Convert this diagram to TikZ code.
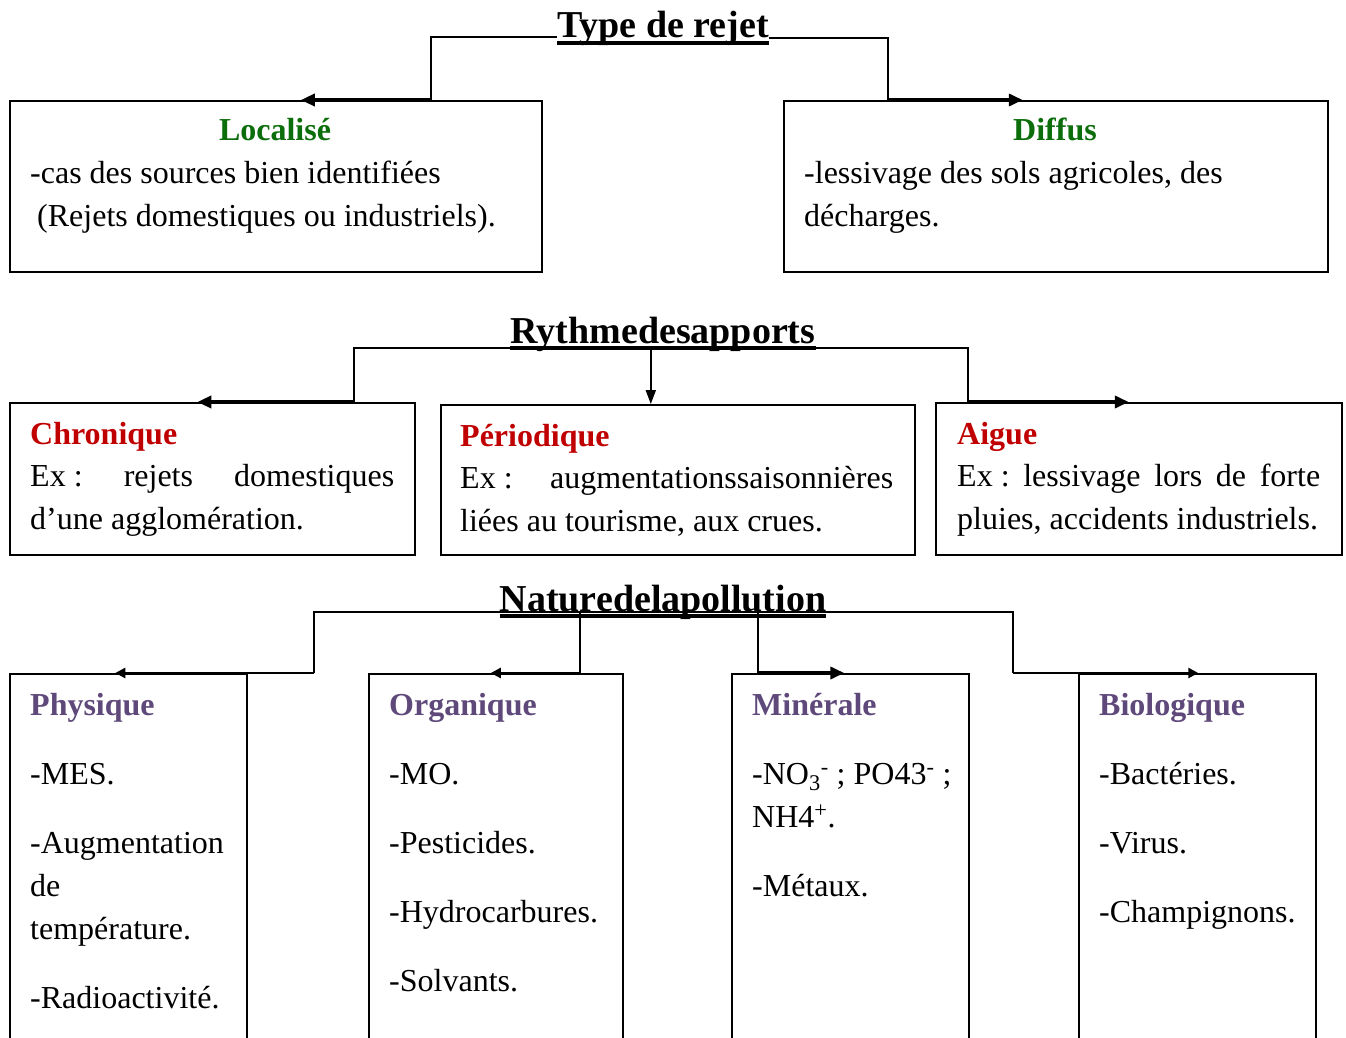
\documentclass[tikz,border=0pt]{standalone}
\usepackage{fontspec}
\setmainfont{Liberation Serif}
\usetikzlibrary{arrows.meta}
\definecolor{locgreen}{RGB}{11,110,11}
\definecolor{rythred}{RGB}{192,0,0}
\definecolor{natpurple}{RGB}{95,73,122}
\tikzset{
  box/.style = {draw, line width=1.6pt, anchor=north west, inner sep=0pt},
  % multi-line text: the base anchor sits on the last line
  txt/.style = {anchor=base west, align=left, inner sep=0pt,
                font=\fontsize{32}{43}\selectfont\frenchspacing},
  head/.style = {anchor=base west, inner sep=0pt,
                 font=\fontsize{32}{43}\selectfont\bfseries},
  title/.style = {anchor=base, inner sep=0pt,
                  font=\fontsize{38}{40}\selectfont\bfseries},
  link/.style = {line width=2pt},
  arr/.style = {line width=3.5pt, -{Triangle[length=14pt,width=12pt]}},
  smallarr/.style = {line width=2.5pt, -{Triangle[length=10pt,width=10pt]}}
}
\begin{document}
\begin{tikzpicture}[x=1pt, y=-1pt]
  \useasboundingbox (0,0) rectangle (1346,1038);
  \clip (0,0) rectangle (1346,1038);

  % Type de rejet
  \node [title] (t1) at (663,38) {Type de rejet};
  \draw [line width=4pt] ([yshift=-5pt]t1.base west) -- ([yshift=-5pt]t1.base east);
  \node [box, minimum width=532, minimum height=171] (loc) at (9,100) {};
  \node [box, minimum width=544, minimum height=171] (dif) at (783,100) {};
  \draw [link] ([yshift=1pt]t1.base west) -| ([xshift=155pt]loc.north);
  \draw [arr] ([xshift=155pt]loc.north) -- ([xshift=25pt]loc.north);
  \draw [link] (t1.base east) -| ([xshift=-168pt]dif.north);
  \draw [arr] ([xshift=-168pt]dif.north) -- ([xshift=-33pt]dif.north);
  \node [head, anchor=base, text=locgreen] (loch) at (275,141) {Localisé};
  \node [txt] (loct) at (30,226)
    {-cas des sources bien identifiées\\\hspace*{7pt}(Rejets domestiques ou industriels).};
  \node [head, anchor=base, text=locgreen] (difh) at (1055,141) {Diffus};
  \node [txt] (dift) at (804,226)
    {-lessivage des sols agricoles, des\\décharges.};

  % Rythme des apports
  \node [title] (t2) at (663,343) {Rythmedesapports};
  \draw [line width=4pt] ([yshift=-5pt]t2.base west) -- ([yshift=-5pt]t2.base east);
  \coordinate (t2u) at ([yshift=-5pt]t2.base);
  \node [box, minimum width=405, minimum height=152] (chr) at (9,402) {};
  \node [box, minimum width=474, minimum height=150] (per) at (440,404) {};
  \node [box, minimum width=406, minimum height=152] (aig) at (935,402) {};
  \draw [link] ([xshift=142pt]chr.north) |- (t2u) -| ([xshift=-171pt]aig.north);
  \draw [arr] ([xshift=142pt]chr.north) -- ([xshift=-15pt]chr.north);
  \draw [arr] ([xshift=-171pt]aig.north) -- ([xshift=-10pt]aig.north);
  \draw [link, -{Triangle[length=14pt,width=10pt]}] ([xshift=-27pt]per.north |- t2u) -- ([xshift=-27pt]per.north);
  \node [head, text=rythred] (chrh) at (30,444) {Chronique};
  \node [txt] (chrt) at (30,529)
    {\makebox[364pt][s]{Ex\kern8pt: rejets domestiques}\\d’une agglomération.};
  \node [head, text=rythred] (perh) at (460,446) {Périodique};
  \node [txt] (pert) at (460,531)
    {\makebox[433pt][s]{Ex\kern8pt: augmentationssaisonnières}\\liées au tourisme, aux crues.};
  \node [head, text=rythred] (aigh) at (957,444) {Aigue};
  \node [txt] (aigt) at (957,529)
    {\makebox[363pt][s]{Ex\kern8pt: lessivage lors de forte}\\pluies, accidents industriels.};

  % Nature de la pollution
  \node [title] (t3) at (663,611) {Naturedelapollution};
  \draw [line width=4pt] ([yshift=-5pt]t3.base west) -- ([yshift=-5pt]t3.base east);
  \coordinate (t3u) at ([yshift=-1pt]t3.base);
  \node [box, minimum width=237, minimum height=420] (phy) at (9,673) {};
  \node [box, minimum width=254, minimum height=420] (org) at (368,673) {};
  \node [box, minimum width=237, minimum height=420] (min) at (731,673) {};
  \node [box, minimum width=237, minimum height=420] (bio) at (1078,673) {};
  \draw [link] ([xshift=186pt]phy.north) |- (t3u) -| ([xshift=-184pt]bio.north);
  \draw [link] ([xshift=84pt]org.north |- t3u) -- ([xshift=84pt]org.north);
  \draw [link] ([xshift=-92pt]min.north |- t3u) -- ([xshift=-92pt]min.north);
  \draw [smallarr] ([xshift=186pt]phy.north) -- ([xshift=-13pt]phy.north);
  \draw [smallarr] ([xshift=84pt]org.north) -- ([xshift=-5pt]org.north);
  \draw [arr] ([xshift=-92pt]min.north) -- ([xshift=-6pt]min.north);
  \draw [smallarr] ([xshift=-184pt]bio.north) -- ([xshift=1pt]bio.north);
  \node [head, text=natpurple] (phyh) at (30,715) {Physique};
  \node [txt] (phyt) at (30,1008)
    {-MES.\\[26pt]-Augmentation\\de\\température.\\[26pt]-Radioactivité.};
  \node [head, text=natpurple] (orgh) at (389,715) {Organique};
  \node [txt] (orgt) at (389,991)
    {-MO.\\[26pt]-Pesticides.\\[26pt]-Hydrocarbures.\\[26pt]-Solvants.};
  \node [head, text=natpurple] (minh) at (752,715) {Minérale};
  \node [txt] (mint) at (752,896)
    {-NO\textsubscript{3}\textsuperscript{-} ; PO43\textsuperscript{-} ;\\NH4\textsuperscript{+}.\\[26pt]-Métaux.};
  \node [head, text=natpurple] (bioh) at (1099,715) {Biologique};
  \node [txt] (biot) at (1099,922)
    {-Bactéries.\\[26pt]-Virus.\\[26pt]-Champignons.};
\end{tikzpicture}
\end{document}
